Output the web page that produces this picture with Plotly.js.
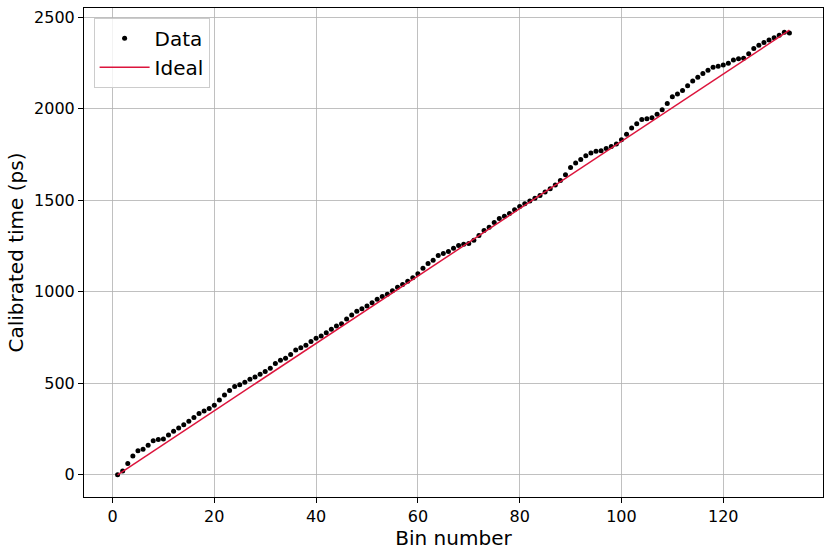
<!DOCTYPE html>
<html>
<head>
<meta charset="utf-8">
<script src="https://cdn.plot.ly/plotly-3.0.1.min.js"></script>
<style>html,body{margin:0;padding:0;background:#fff;}#chart{width:831px;height:554px;}</style>
</head>
<body>
<div id="chart"></div>
<script>
// Bin numbers 1..133
const bins = [];
for (let i = 1; i <= 133; i++) bins.push(i);

// Calibrated time (ps)
const calibratedTime = [
  0, 20, 62, 102, 131, 140, 162, 186, 193, 195,
  217, 238, 256, 273, 293, 313, 335, 349, 362, 380,
  409, 436, 460, 483, 492, 506, 522, 535, 549, 564,
  582, 608, 626, 637, 657, 682, 695, 708, 728, 746,
  758, 777, 795, 813, 826, 852, 874, 894, 908, 923,
  940, 960, 974, 987, 1006, 1025, 1040, 1058, 1077, 1099,
  1129, 1155, 1173, 1199, 1209, 1220, 1238, 1253, 1260, 1264,
  1282, 1308, 1335, 1353, 1379, 1401, 1413, 1428, 1448, 1466,
  1481, 1497, 1511, 1526, 1546, 1564, 1584, 1609, 1640, 1680,
  1704, 1724, 1744, 1759, 1768, 1771, 1784, 1795, 1808, 1831,
  1862, 1895, 1919, 1942, 1946, 1951, 1971, 1995, 2029, 2066,
  2082, 2100, 2126, 2153, 2173, 2193, 2211, 2228, 2233, 2240,
  2250, 2267, 2274, 2277, 2302, 2330, 2348, 2363, 2376, 2389,
  2403, 2419, 2415
];

// Ideal line endpoints
const idealX = [1, 133];
const idealY = [0, 2430];

const xTicks = [0, 20, 40, 60, 80, 100, 120];
const yTicks = [0, 500, 1000, 1500, 2000, 2500];

const font = "DejaVu Sans, sans-serif";

const traces = [
  {
    x: bins, y: calibratedTime, type: "scatter", mode: "markers", name: "Data",
    marker: {color: "#000000", size: 5}
  },
  {
    x: idealX, y: idealY, type: "scatter", mode: "lines", name: "Ideal",
    line: {color: "#DC143C", width: 1.5}
  }
];

const layout = {
  width: 831, height: 554,
  margin: {l: 84, r: 8, t: 8, b: 57},
  paper_bgcolor: "#ffffff", plot_bgcolor: "#ffffff",
  font: {family: font, size: 16, color: "#000"},
  showlegend: true,
  legend: {
    x: 0.013, y: 0.98, xanchor: "left", yanchor: "top",
    bgcolor: "rgba(255,255,255,0.8)", bordercolor: "#cccccc", borderwidth: 1,
    font: {family: font, size: 20, color: "#000"},
    itemwidth: 50, tracegroupgap: 4
  },
  xaxis: {
    range: [-5.6, 139.6], tickvals: xTicks, ticktext: xTicks.map(String),
    showgrid: true, gridcolor: "#b0b0b0", gridwidth: 0.8, zeroline: false,
    showline: true, linecolor: "#000", linewidth: 1, mirror: true,
    ticks: "outside", ticklen: 5, tickcolor: "#000",
    tickfont: {family: font, size: 16, color: "#000"},
    title: {text: "Bin number", font: {family: font, size: 20, color: "#000"}, standoff: 3}
  },
  yaxis: {
    range: [-121.5, 2551.5], tickvals: yTicks, ticktext: yTicks.map(String),
    showgrid: true, gridcolor: "#b0b0b0", gridwidth: 0.8, zeroline: false,
    showline: true, linecolor: "#000", linewidth: 1, mirror: true,
    ticks: "outside", ticklen: 5, tickcolor: "#000",
    tickfont: {family: font, size: 16, color: "#000"},
    title: {text: "Calibrated time (ps)", font: {family: font, size: 20, color: "#000"}, standoff: 5}
  }
};

Plotly.newPlot("chart", traces, layout, {displayModeBar: false, staticPlot: true});
</script>
</body>
</html>
